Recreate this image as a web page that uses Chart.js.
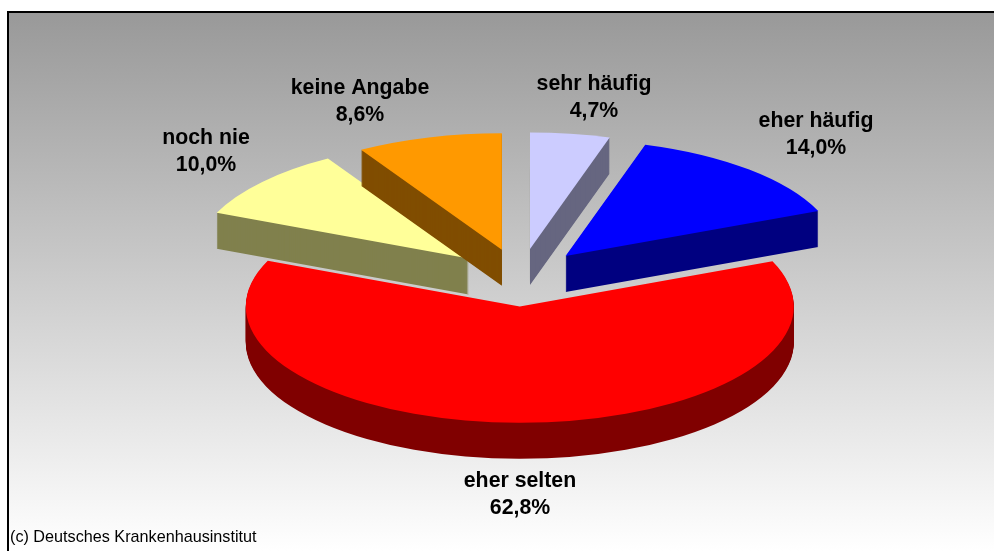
<!DOCTYPE html>
<html lang="de">
<head>
    <meta charset="UTF-8">
    <title>Häufigkeit</title>
    <script src="https://cdn.jsdelivr.net/npm/chart.js"></script>
    <style>
        html, body { margin: 0; background: #fff; }
        #chart-container { width: 994px; height: 551px; position: relative; }
    </style>
</head>
<body>
    <div id="chart-container">
        <canvas id="pieChart"></canvas>
    </div>

    <script>
        const categories = ['sehr häufig', 'eher häufig', 'eher selten', 'noch nie', 'keine Angabe'];
        const shares = [4.7, 14.0, 62.8, 10.0, 8.6];
        const topColors = ['#CCCCFF', '#0000FF', '#FF0000', '#FFFF99', '#FF9900'];
        const wallColors = ['#666680', '#000080', '#800000', '#80804D', '#804D00'];
        const sourceNote = '(c) Deutsches Krankenhausinstitut';

        // label centre per slice (first line, second line follows below)
        const labelAnchors = [[594, 84], [816, 121], [520, 481], [206, 138], [360, 88]];

        const tilt = 0.425;      // vertical squash of the pie
        const depth = 36;        // wall height in screen px
        const explode = 68;      // slice distance from centre

        // draws the pie as a tilted, extruded disc using the chart's own arc elements
        const tiltedPie = {
            id: 'tiltedPie',
            beforeDraw(chart) {
                const { ctx, width, height } = chart;
                const bg = ctx.createLinearGradient(0, 13, 0, height);
                bg.addColorStop(0, '#999999');
                bg.addColorStop(1, '#FFFFFF');
                ctx.save();
                ctx.fillStyle = bg;
                ctx.fillRect(8, 12, width - 8, height - 12);
                ctx.fillStyle = '#000';
                ctx.fillRect(7, 11, width - 7, 2);
                ctx.fillRect(7, 11, 2, height - 11);
                ctx.restore();
            },
            beforeDatasetsDraw(chart) {
                const { ctx } = chart;
                const arcs = chart.getDatasetMeta(0).data;
                const cy = arcs[0].y;
                arcs.forEach((arc, i) => {
                    const mid = (arc.startAngle + arc.endAngle) / 2;
                    const topOptions = arc.options;
                    ctx.save();
                    ctx.translate(0, cy);
                    ctx.scale(1, tilt);
                    ctx.translate(0, -cy);
                    ctx.translate(Math.cos(mid) * explode, Math.sin(mid) * explode);
                    arc.options = Object.assign({}, topOptions, { backgroundColor: wallColors[i] });
                    for (let d = depth; d > 0; d--) {
                        ctx.save();
                        ctx.translate(0, d / tilt);
                        arc.draw(ctx);
                        ctx.restore();
                    }
                    arc.options = topOptions;
                    arc.draw(ctx);
                    ctx.restore();
                });
                return false;
            },
            afterDraw(chart) {
                const { ctx } = chart;
                ctx.save();
                ctx.fillStyle = '#000';
                ctx.textAlign = 'center';
                ctx.textBaseline = 'middle';
                ctx.font = 'bold 21.3px "Liberation Sans", Arial, sans-serif';
                categories.forEach((name, i) => {
                    const [x, y] = labelAnchors[i];
                    ctx.fillText(name, x, y);
                    ctx.fillText(shares[i].toFixed(1).replace('.', ',') + '%', x, y + 27);
                });
                ctx.textAlign = 'left';
                ctx.font = '16.2px "Liberation Sans", Arial, sans-serif';
                ctx.fillText(sourceNote, 10, 538);
                ctx.restore();
            }
        };

        new Chart(document.getElementById('pieChart'), {
            type: 'pie',
            data: {
                labels: categories,
                datasets: [{
                    data: shares,
                    backgroundColor: topColors,
                    borderWidth: 0,
                    radius: 274,
                    clip: false
                }]
            },
            options: {
                responsive: true,
                maintainAspectRatio: false,
                animation: false,
                events: [],
                layout: { padding: { left: 46, top: 4 } },
                plugins: { legend: { display: false }, tooltip: { enabled: false } }
            },
            plugins: [tiltedPie]
        });
    </script>
</body>
</html>
